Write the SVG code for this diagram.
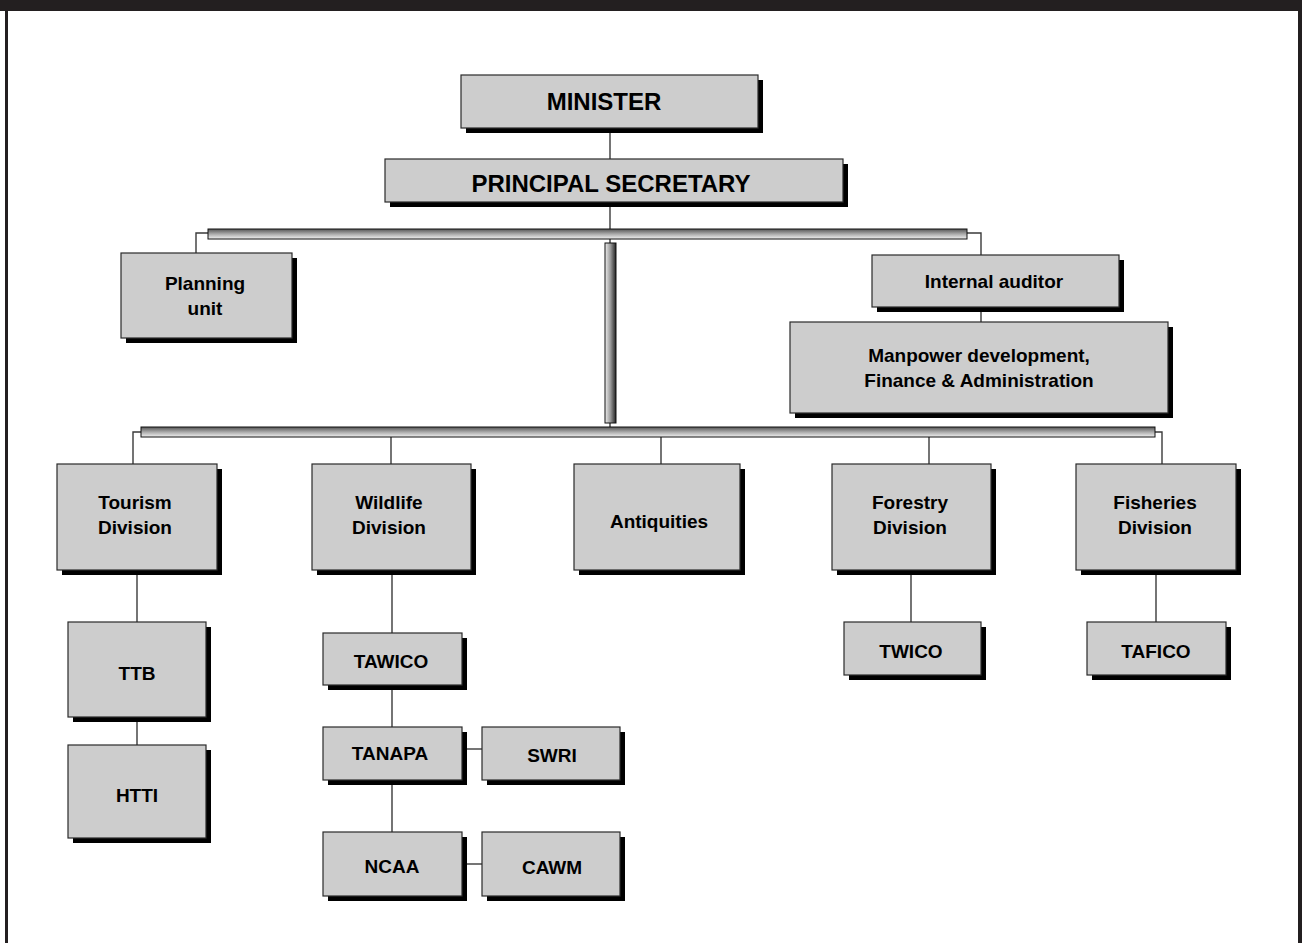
<svg xmlns="http://www.w3.org/2000/svg" width="1302" height="943" viewBox="0 0 1302 943">
<style>
.sh{fill:#000}
.bx{fill:#cdcdcd;stroke:#2a2a2a;stroke-width:1.2}
.t{font-family:"Liberation Sans",Arial,sans-serif;font-weight:bold;font-size:19px;fill:#000;text-anchor:middle}
.tl{font-size:24px}
.c{stroke:#3a3a3a;stroke-width:1.4;fill:none}
.hb{fill:url(#hg);stroke:#111;stroke-width:1}
.vb{fill:url(#vg);stroke:#111;stroke-width:1}
</style>
<defs>
<linearGradient id="hg" x1="0" y1="0" x2="0" y2="1">
<stop offset="0" stop-color="#555"/>
<stop offset="0.5" stop-color="#aaa"/>
<stop offset="1" stop-color="#f2f2f2"/>
</linearGradient>
<linearGradient id="vg" x1="0" y1="0" x2="1" y2="0">
<stop offset="0" stop-color="#eee"/>
<stop offset="0.5" stop-color="#999"/>
<stop offset="1" stop-color="#222"/>
</linearGradient>
</defs>
<rect width="1302" height="943" fill="#fff"/>
<rect x="0" y="0" width="1302" height="11" fill="#231f20"/>
<rect x="5" y="11" width="3" height="932" fill="#231f20"/>
<rect x="1298" y="11" width="4" height="932" fill="#231f20"/>

<g id="connectors">
<path class="c" d="M610 128V159"/>
<path class="c" d="M610 202V243"/>
<path class="c" d="M610 423V427"/>
<path class="c" d="M208 233H196V254"/>
<path class="c" d="M967 233H981V255"/>
<path class="c" d="M981 307V322"/>
<path class="c" d="M141 432H133V464"/>
<path class="c" d="M1155 432H1162V464"/>
<path class="c" d="M391 437V464"/>
<path class="c" d="M661 437V464"/>
<path class="c" d="M929 437V464"/>
<path class="c" d="M137 570V622"/>
<path class="c" d="M137 717V745"/>
<path class="c" d="M392 570V633"/>
<path class="c" d="M392 685V727"/>
<path class="c" d="M392 780V832"/>
<path class="c" d="M462 749H482"/>
<path class="c" d="M462 864H482"/>
<path class="c" d="M911 570V622"/>
<path class="c" d="M1156 570V622"/>
<rect class="hb" x="208" y="229" width="759" height="10"/>
<rect class="vb" x="605" y="243" width="11" height="180"/>
<rect class="hb" x="141" y="427" width="1014" height="10"/>
</g>

<g id="minister">
<rect class="sh" x="466" y="80" width="297" height="53"/>
<rect class="bx" x="461" y="75" width="297" height="53"/>
<text class="t tl" x="604" y="110">MINISTER</text>
</g>
<g id="principal-secretary">
<rect class="sh" x="390" y="164" width="458" height="43"/>
<rect class="bx" x="385" y="159" width="458" height="43"/>
<text class="t tl" x="611" y="192">PRINCIPAL SECRETARY</text>
</g>
<g id="planning-unit">
<rect class="sh" x="126" y="258" width="171" height="85"/>
<rect class="bx" x="121" y="253" width="171" height="85"/>
<text class="t" x="205" y="290">Planning</text>
<text class="t" x="205" y="315">unit</text>
</g>
<g id="internal-auditor">
<rect class="sh" x="877" y="260" width="247" height="52"/>
<rect class="bx" x="872" y="255" width="247" height="52"/>
<text class="t" x="994" y="288">Internal auditor</text>
</g>
<g id="manpower">
<rect class="sh" x="795" y="327" width="378" height="91"/>
<rect class="bx" x="790" y="322" width="378" height="91"/>
<text class="t" x="979" y="362">Manpower development,</text>
<text class="t" x="979" y="387">Finance &amp; Administration</text>
</g>
<g id="tourism">
<rect class="sh" x="62" y="469" width="160" height="106"/>
<rect class="bx" x="57" y="464" width="160" height="106"/>
<text class="t" x="135" y="509">Tourism</text>
<text class="t" x="135" y="534">Division</text>
</g>
<g id="wildlife">
<rect class="sh" x="317" y="469" width="159" height="106"/>
<rect class="bx" x="312" y="464" width="159" height="106"/>
<text class="t" x="389" y="509">Wildlife</text>
<text class="t" x="389" y="534">Division</text>
</g>
<g id="antiquities">
<rect class="sh" x="579" y="469" width="166" height="106"/>
<rect class="bx" x="574" y="464" width="166" height="106"/>
<text class="t" x="659" y="528">Antiquities</text>
</g>
<g id="forestry">
<rect class="sh" x="837" y="469" width="159" height="106"/>
<rect class="bx" x="832" y="464" width="159" height="106"/>
<text class="t" x="910" y="509">Forestry</text>
<text class="t" x="910" y="534">Division</text>
</g>
<g id="fisheries">
<rect class="sh" x="1081" y="469" width="160" height="106"/>
<rect class="bx" x="1076" y="464" width="160" height="106"/>
<text class="t" x="1155" y="509">Fisheries</text>
<text class="t" x="1155" y="534">Division</text>
</g>
<g id="ttb">
<rect class="sh" x="73" y="627" width="138" height="95"/>
<rect class="bx" x="68" y="622" width="138" height="95"/>
<text class="t" x="137" y="680">TTB</text>
</g>
<g id="htti">
<rect class="sh" x="73" y="750" width="138" height="93"/>
<rect class="bx" x="68" y="745" width="138" height="93"/>
<text class="t" x="137" y="802">HTTI</text>
</g>
<g id="tawico">
<rect class="sh" x="328" y="638" width="139" height="52"/>
<rect class="bx" x="323" y="633" width="139" height="52"/>
<text class="t" x="391" y="668">TAWICO</text>
</g>
<g id="tanapa">
<rect class="sh" x="328" y="732" width="139" height="53"/>
<rect class="bx" x="323" y="727" width="139" height="53"/>
<text class="t" x="390" y="760">TANAPA</text>
</g>
<g id="swri">
<rect class="sh" x="487" y="732" width="138" height="53"/>
<rect class="bx" x="482" y="727" width="138" height="53"/>
<text class="t" x="552" y="762">SWRI</text>
</g>
<g id="ncaa">
<rect class="sh" x="328" y="837" width="139" height="64"/>
<rect class="bx" x="323" y="832" width="139" height="64"/>
<text class="t" x="392" y="873">NCAA</text>
</g>
<g id="cawm">
<rect class="sh" x="487" y="837" width="138" height="64"/>
<rect class="bx" x="482" y="832" width="138" height="64"/>
<text class="t" x="552" y="874">CAWM</text>
</g>
<g id="twico">
<rect class="sh" x="849" y="627" width="137" height="53"/>
<rect class="bx" x="844" y="622" width="137" height="53"/>
<text class="t" x="911" y="658">TWICO</text>
</g>
<g id="tafico">
<rect class="sh" x="1092" y="627" width="139" height="53"/>
<rect class="bx" x="1087" y="622" width="139" height="53"/>
<text class="t" x="1156" y="658">TAFICO</text>
</g>
</svg>
